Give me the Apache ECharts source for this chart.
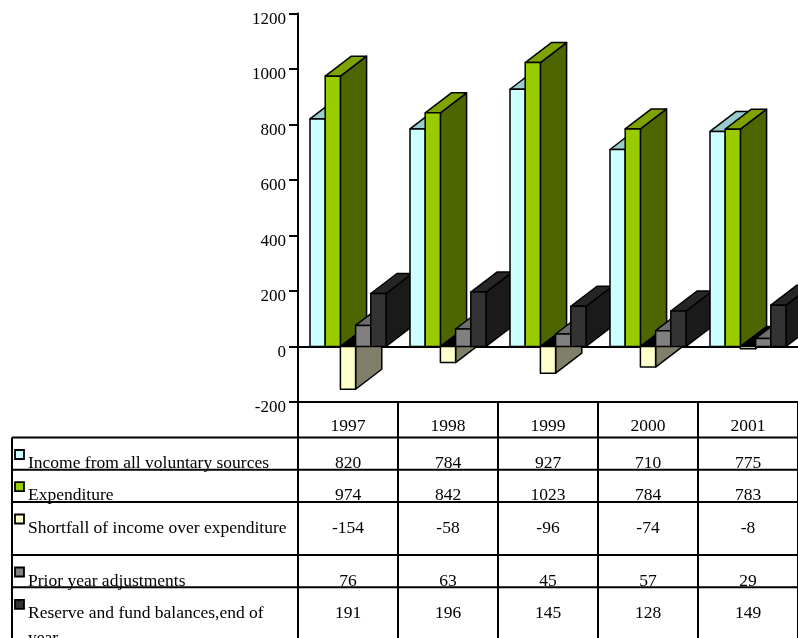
<!DOCTYPE html>
<html><head><meta charset="utf-8">
<script src="https://cdn.jsdelivr.net/npm/echarts@6/dist/echarts.min.js"></script>
<style>html,body{margin:0;padding:0;background:#fff}#c{width:798px;height:638px}</style>
</head><body><div id="c"></div>
<script>
// ---- data ----
const years = ['1997', '1998', '1999', '2000', '2001'];
const seriesNames = ['Income from all voluntary sources', 'Expenditure', 'Shortfall of income over expenditure', 'Prior year adjustments', 'Reserve and fund balances,end of year'];
const income = [820, 784, 927, 710, 775];
const expenditure = [974, 842, 1023, 784, 783];
const shortfall = [-154, -58, -96, -74, -8];
const priorAdj = [76, 63, 45, 57, 29];
const reserve = [191, 196, 145, 128, 149];
const yTicks = [-200, 0, 200, 400, 600, 800, 1000, 1200];

const allSeries = [income, expenditure, shortfall, priorAdj, reserve];
const faces = [
  {front: '#CCFFFF', top: '#99CCCC', side: '#669999'},
  {front: '#99CC00', top: '#7FA300', side: '#4D6600'},
  {front: '#FFFFCC', top: '#000000', side: '#80806A'},
  {front: '#808080', top: '#6E6E6E', side: '#4D4D4D'},
  {front: '#333333', top: '#262626', side: '#1A1A1A'}
];
const FONT = 'Liberation Serif';

function makeRender(s) {
  const col = faces[s];
  return function (params, api) {
    const idx = api.value(0), v = api.value(1);
    const bw = api.size([1, 0])[0];
    const c0 = api.coord([idx, 0]);
    const cx = c0[0], y0 = c0[1];
    const y1 = api.coord([idx, v])[1];
    const w = bw * 0.152, dx = bw * 0.262, dy = -bw * 0.2;
    const x0 = cx - 2.5 * w + s * w, x1 = x0 + w;
    const yt = Math.min(y0, y1), yb = Math.max(y0, y1);
    const st = f => ({fill: f, stroke: '#000', lineWidth: 1.5, lineJoin: 'round'});
    const z2 = idx * 10 + s;
    return {
      type: 'group', children: [
        {type: 'polygon', z2: z2, shape: {points: [[x1, yt], [x1 + dx, yt + dy], [x1 + dx, yb + dy], [x1, yb]]}, style: st(col.side)},
        {type: 'polygon', z2: z2, shape: {points: [[x0, yt], [x1, yt], [x1 + dx, yt + dy], [x0 + dx, yt + dy]]}, style: st(col.top)},
        {type: 'rect', z2: z2, shape: {x: x0, y: yt, width: w, height: yb - yt}, style: st(col.front)}
      ]
    };
  };
}

const chart = echarts.init(document.getElementById('c'), null, {renderer: 'canvas'});
const option = {
  animation: false,
  backgroundColor: '#ffffff',
  grid: {left: 298, top: 13.5, width: 500, height: 388.5, containLabel: false},
  xAxis: [{
    type: 'category', data: years, position: 'bottom',
    axisLine: {show: true, onZero: false, lineStyle: {color: '#000', width: 2}},
    axisTick: {show: true, interval: 0, length: 240, lineStyle: {color: '#000', width: 2}},
    axisLabel: {interval: 0, color: '#000', fontFamily: FONT, fontSize: 17.5, margin: 14, lineHeight: 20},
    splitLine: {show: false}
  }, {
    type: 'category', data: years, position: 'top',
    axisLine: {show: true, lineStyle: {color: '#000', width: 2}},
    axisTick: {show: false}, axisLabel: {show: false}, splitLine: {show: false}
  }],
  yAxis: {
    type: 'value', min: yTicks[0], max: yTicks[yTicks.length - 1], interval: yTicks[1] - yTicks[0],
    axisLine: {show: true, lineStyle: {color: '#000', width: 2}},
    axisTick: {show: true, length: 9, lineStyle: {color: '#000', width: 2}},
    axisLabel: {color: '#000', fontFamily: FONT, fontSize: 17, margin: 12, verticalAlign: 'top', lineHeight: 12,
      formatter: v => String(v)},
    splitLine: {show: false}
  },
  series: allSeries.map((arr, s) => ({
    type: 'custom', name: seriesNames[s], xAxisIndex: 0,
    renderItem: makeRender(s),
    encode: {x: 0, y: 1},
    data: arr.map((v, i) => [i, v])
  }))
};
chart.setOption(option);

// ---- data table below the plot ----
const rowTops = [437.5, 469.7, 502, 555, 587.3];
const tableLeft = 12, tableRight = 798, tableBottom = 640;
const graphics = [];
rowTops.forEach(t => graphics.push({type: 'line', z: 100, shape: {x1: tableLeft, y1: t, x2: tableRight, y2: t}, style: {stroke: '#000', lineWidth: 2}}));
graphics.push({type: 'line', z: 100, shape: {x1: tableLeft, y1: rowTops[0], x2: tableLeft, y2: tableBottom}, style: {stroke: '#000', lineWidth: 2}});
allSeries.forEach((arr, s) => {
  const t = rowTops[s];
  graphics.push({type: 'rect', z: 50, shape: {x: 15, y: t + 12.5, width: 9, height: 9}, style: {fill: faces[s].front, stroke: '#000', lineWidth: 1.8}});
  const label = seriesNames[s] === 'Reserve and fund balances,end of year' ? 'Reserve and fund balances,end of\nyear' : seriesNames[s];
  graphics.push({type: 'text', z: 50, style: {x: 28, y: t + 13.5, text: label, fill: '#000', fontFamily: FONT, fontSize: 17.5, lineHeight: 25, align: 'left', verticalAlign: 'top'}});
  arr.forEach((v, i) => {
    const cx = chart.convertToPixel({xAxisIndex: 0}, years[i]);
    graphics.push({type: 'text', z: 50, style: {x: cx, y: t + 13.5, text: String(v), fill: '#000', fontFamily: FONT, fontSize: 17.5, lineHeight: 25, align: 'center', verticalAlign: 'top'}});
  });
});
chart.setOption({graphic: {elements: graphics}});
</script>
</body></html>
